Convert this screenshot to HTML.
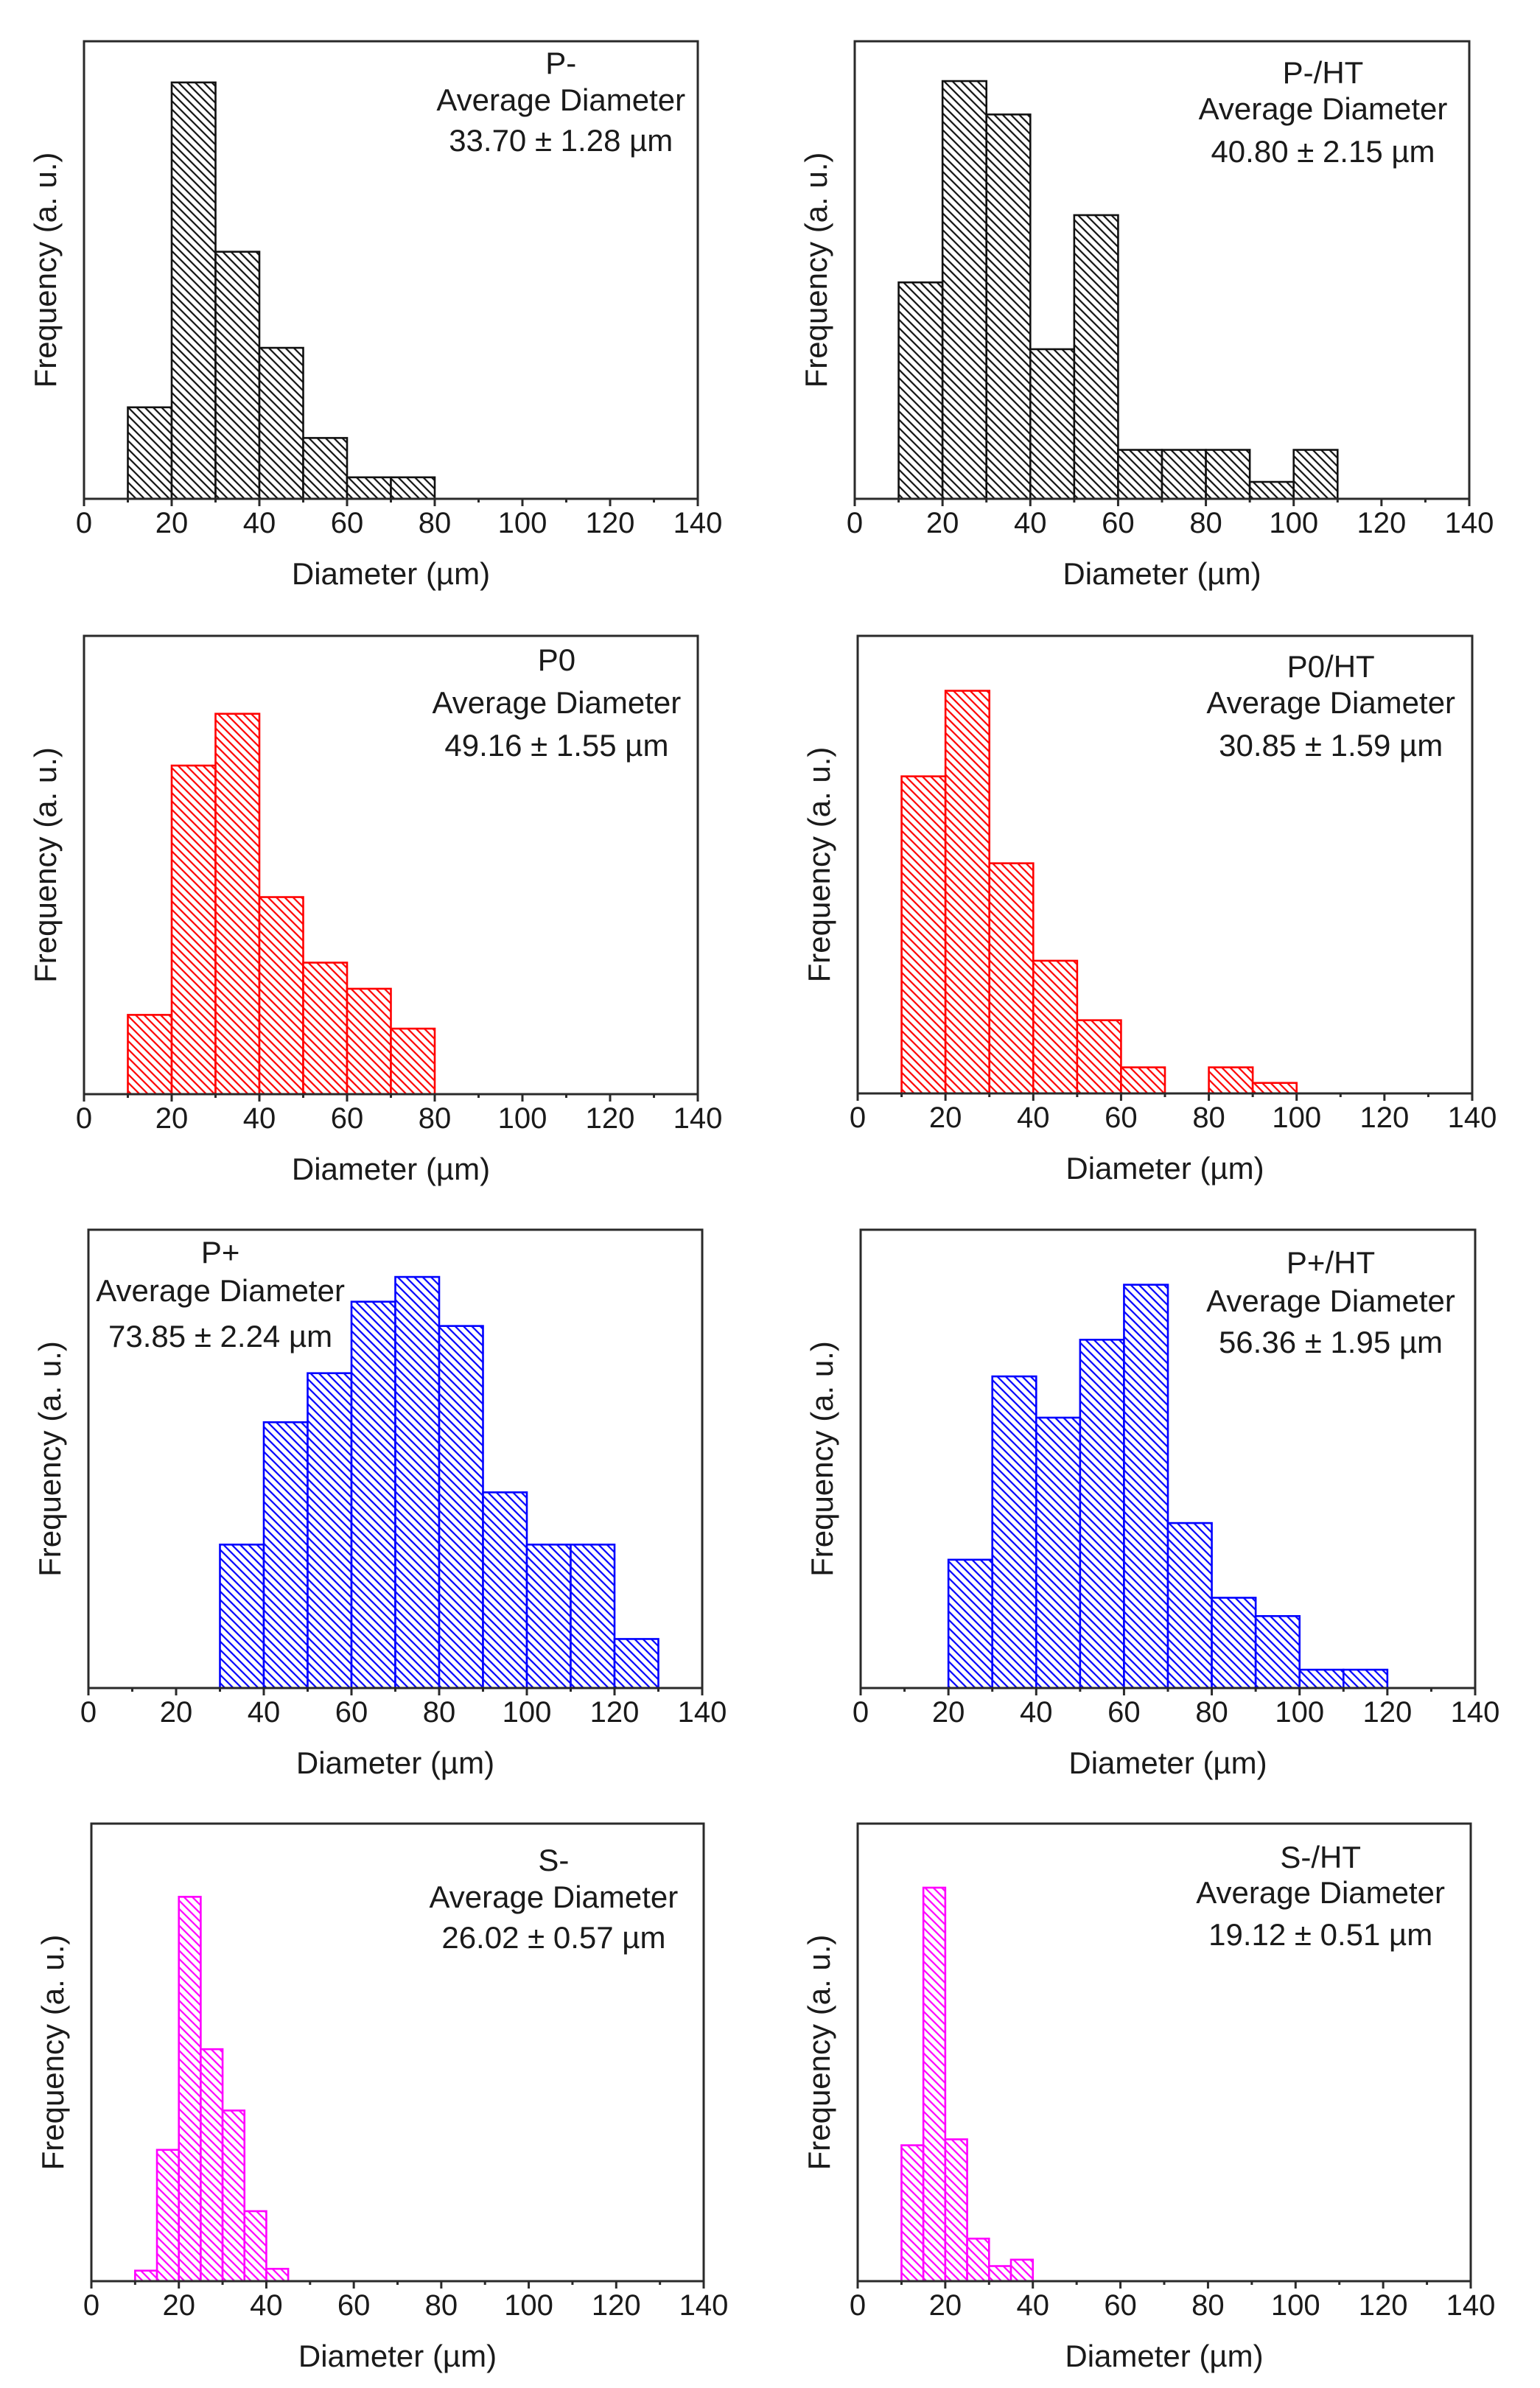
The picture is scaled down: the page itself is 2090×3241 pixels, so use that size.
<!DOCTYPE html>
<html>
<head>
<meta charset="utf-8">
<style>
html,body{margin:0;padding:0;background:#fff;}
svg{display:block;}
text{font-family:"Liberation Sans",Arial,sans-serif;fill:#1a1a1a;}
</style>
</head>
<body>
<svg id="fig" width="2090" height="3241" viewBox="0 0 2090 3241" xmlns="http://www.w3.org/2000/svg">
<defs id="defs"></defs>
</svg>
<script>
// x tick labels (shared)
const xTicks = [0, 20, 40, 60, 80, 100, 120, 140];
// Panel data: bin starts, bin width, frequency (a.u., % of frame height)
const pmBins = [10, 20, 30, 40, 50, 60, 70];
const pmFreq = [20, 91, 54, 33, 13.3, 4.7, 4.7];
const pmhtBins = [10, 20, 30, 40, 50, 60, 70, 80, 90, 100];
const pmhtFreq = [47.3, 91.3, 84, 32.7, 62, 10.7, 10.7, 10.7, 3.7, 10.7];
const p0Bins = [10, 20, 30, 40, 50, 60, 70];
const p0Freq = [17.3, 71.7, 83, 43, 28.7, 23, 14.3];
const p0htBins = [10, 20, 30, 40, 50, 60, 70, 80, 90];
const p0htFreq = [69.3, 88, 50.3, 29, 16, 5.7, 0, 5.7, 2.3];
const ppBins = [30, 40, 50, 60, 70, 80, 90, 100, 110, 120];
const ppFreq = [31.3, 58, 68.7, 84.3, 89.7, 79, 42.7, 31.3, 31.3, 10.7];
const pphtBins = [20, 30, 40, 50, 60, 70, 80, 90, 100, 110];
const pphtFreq = [28, 68, 59, 76, 88, 36, 19.7, 15.7, 4, 4];
const smBins = [10, 15, 20, 25, 30, 35, 40];
const smFreq = [2.3, 28.7, 84, 50.7, 37.3, 15.3, 2.7];
const smhtBins = [10, 15, 20, 25, 30, 35];
const smhtFreq = [29.7, 86, 31, 9.3, 3.3, 4.7];
const titles = ["P-", "P-/HT", "P0", "P0/HT", "P+", "P+/HT", "S-", "S-/HT"];
const values = ["33.70 \u00b1 1.28 \u00b5m", "40.80 \u00b1 2.15 \u00b5m", "49.16 \u00b1 1.55 \u00b5m", "30.85 \u00b1 1.59 \u00b5m",
                "73.85 \u00b1 2.24 \u00b5m", "56.36 \u00b1 1.95 \u00b5m", "26.02 \u00b1 0.57 \u00b5m", "19.12 \u00b1 0.51 \u00b5m"];

const NS = "http://www.w3.org/2000/svg";
const svg = document.getElementById('fig');
const defs = document.getElementById('defs');

const panels = [
  {bins: pmBins, freq: pmFreq, w: 10, color: "#111", x0: 114, x1: 947, y0: 56, y1: 677, ann: [0.777, 30, 80, 135]},
  {bins: pmhtBins, freq: pmhtFreq, w: 10, color: "#111", x0: 1160, x1: 1994, y0: 56, y1: 677, ann: [0.762, 43, 92, 150]},
  {bins: p0Bins, freq: p0Freq, w: 10, color: "#ff0000", x0: 114, x1: 947, y0: 863, y1: 1485, ann: [0.77, 33, 91, 149]},
  {bins: p0htBins, freq: p0htFreq, w: 10, color: "#ff0000", x0: 1164, x1: 1998, y0: 863, y1: 1484, ann: [0.77, 42, 91, 149]},
  {bins: ppBins, freq: ppFreq, w: 10, color: "#0000ff", x0: 120, x1: 953, y0: 1669, y1: 2291, ann: [0.215, 31, 83, 145]},
  {bins: pphtBins, freq: pphtFreq, w: 10, color: "#0000ff", x0: 1168, x1: 2002, y0: 1669, y1: 2291, ann: [0.765, 45, 97, 153]},
  {bins: smBins, freq: smFreq, w: 5, color: "#ff00ff", x0: 124, x1: 955, y0: 2475, y1: 3096, ann: [0.755, 50, 100, 155]},
  {bins: smhtBins, freq: smhtFreq, w: 5, color: "#ff00ff", x0: 1164, x1: 1996, y0: 2475, y1: 3096, ann: [0.755, 46, 94, 151]}
];

function mk(tag, attrs, parent) {
  const e = document.createElementNS(NS, tag);
  for (const k in attrs) e.setAttribute(k, attrs[k]);
  (parent || svg).appendChild(e);
  return e;
}

panels.forEach((p, i) => {
  // hatch pattern (backslash direction)
  const pat = mk('pattern', {id: 'h' + i, patternUnits: 'userSpaceOnUse', width: 8, height: 8, patternTransform: 'rotate(45)'}, defs);
  mk('rect', {x: 0, y: 0, width: 8, height: 8, fill: '#fff'}, pat);
  mk('line', {x1: 0, y1: 4, x2: 8, y2: 4, stroke: p.color, 'stroke-width': 2.2}, pat);

  const g = mk('g', {});
  
  

  const sx = v => p.x0 + (v / 140) * (p.x1 - p.x0);
  const sy = v => p.y1 - (v / 100) * (p.y1 - p.y0);

  // bars
  p.bins.forEach((b, j) => {
    const f = p.freq[j];
    if (f <= 0) return;
    const r = mk('rect', {x: sx(b), y: sy(f), width: sx(b + p.w) - sx(b), height: p.y1 - sy(f),
      fill: 'url(#h' + i + ')', stroke: p.color, 'stroke-width': 2.6}, g);
    
    
  });

  // frame
  const fr = mk('rect', {x: p.x0, y: p.y0, width: p.x1 - p.x0, height: p.y1 - p.y0, fill: 'none', stroke: '#2a2a2a', 'stroke-width': 3}, g);
  
  

  // ticks
  for (let t = 0; t <= 140; t += 10) {
    const major = t % 20 === 0;
    mk('line', {x1: sx(t), y1: p.y1, x2: sx(t), y2: p.y1 + (major ? 10 : 5), stroke: '#2a2a2a', 'stroke-width': 3}, g);
  }
  xTicks.forEach(t => {
    const tx = mk('text', {x: sx(t), y: p.y1 + 46, 'font-size': 40, 'text-anchor': 'middle'}, g);
    tx.textContent = t;
    
    
  });

  const xt = mk('text', {x: (p.x0 + p.x1) / 2, y: p.y1 + 116, 'font-size': 42, 'text-anchor': 'middle'}, g);
  xt.textContent = 'Diameter (\u00b5m)';
  
  

  const cy = (p.y0 + p.y1) / 2;
  const yt = mk('text', {x: p.x0 - 38, y: cy, 'font-size': 42, 'text-anchor': 'middle', transform: 'rotate(-90 ' + (p.x0 - 38) + ' ' + cy + ')'}, g);
  yt.textContent = 'Frequency (a. u.)';
  
  

  // annotation
  const ax = p.x0 + p.ann[0] * (p.x1 - p.x0);
  const lines = [titles[i], 'Average Diameter', values[i]];
  const names = ['sample-label', 'average-diameter-label', 'average-diameter-value'];
  lines.forEach((s, k) => {
    const t = mk('text', {x: ax, y: p.y0 + p.ann[k + 1] + 14, 'font-size': 42, 'text-anchor': 'middle'}, g);
    t.textContent = s;
    
    
  });
});
</script>
</body>
</html>
